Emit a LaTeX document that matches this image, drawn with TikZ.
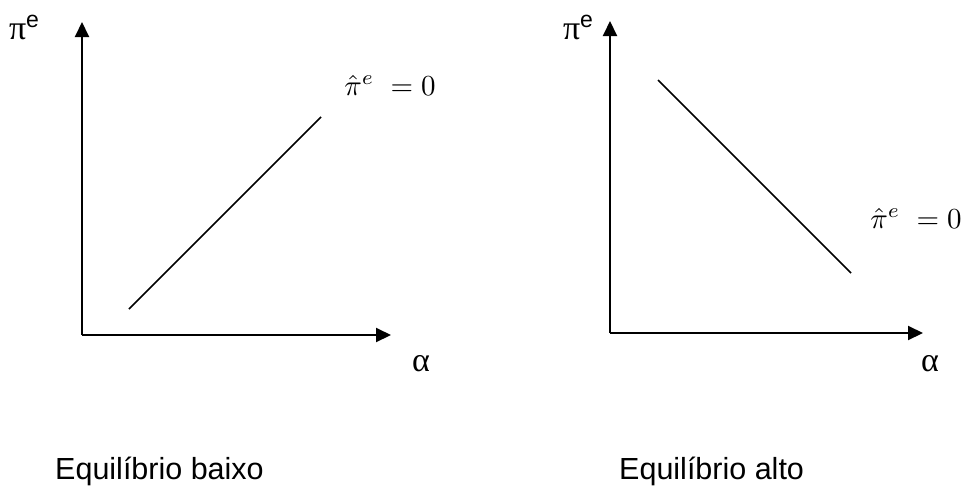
\documentclass[tikz,border=0pt]{standalone}
\usepackage{graphicx}
\usepackage{fontspec}
\setmainfont{Liberation Serif}
\setsansfont{Liberation Sans}
\usetikzlibrary{arrows.meta}
\begin{document}
\begin{tikzpicture}[x=1pt,y=-1pt,
  axis/.style={line width=2pt,-{Triangle[length=15pt,width=14pt]}},
  curve/.style={line width=1.6pt},
  greek/.style={inner sep=0pt,font=\fontsize{34}{36}\selectfont},
  caption/.style={inner sep=0pt,anchor=base west,font=\sffamily\fontsize{30.5}{34}\selectfont},
  eqlabel/.style={inner sep=0pt,font=\normalsize}]
\useasboundingbox (0,0) rectangle (963,488);
% left panel
\coordinate (LO) at (82,335);
\coordinate (LY) at (82,22);
\coordinate (LX) at (391,335);
\draw[axis] (LO) -- (LY);
\draw[axis] (LO) -- (LX);
\coordinate (LA) at (129,309);
\coordinate (LB) at (321,117);
\draw[curve] (LA) -- (LB);
\node[greek] (lpi) at (24,27) {π\raisebox{12pt}{\sffamily\fontsize{23}{24}\selectfont e}};
\node[greek] (lalpha) at (421,364) {α};
\node[eqlabel] (leq) at (390,85) {\scalebox{2.9}{$\hat{\pi}^{e}\;=0$}};
\node[caption] (lcap) at (55,479) {Equilíbrio baixo};
% right panel
\coordinate (RO) at (610,333);
\coordinate (RY) at (610,21);
\coordinate (RX) at (923,333);
\draw[axis] (RO) -- (RY);
\draw[axis] (RO) -- (RX);
\coordinate (RA) at (658,80);
\coordinate (RB) at (851,273);
\draw[curve] (RA) -- (RB);
\node[greek] (rpi) at (578,27) {π\raisebox{12pt}{\sffamily\fontsize{23}{24}\selectfont e}};
\node[greek] (ralpha) at (930,364) {α};
\node[eqlabel] (req) at (916,218) {\scalebox{2.9}{$\hat{\pi}^{e}\;=0$}};
\node[caption] (rcap) at (619,479) {Equilíbrio alto};
\end{tikzpicture}
\end{document}
